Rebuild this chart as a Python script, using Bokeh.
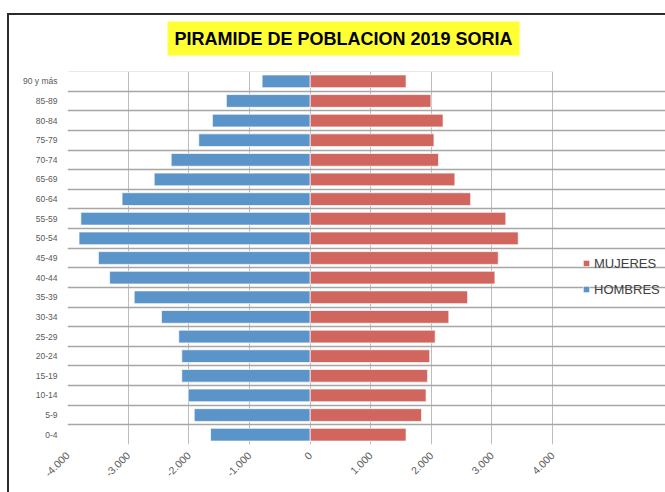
from bokeh.plotting import figure
from bokeh.models import Range1d, FixedTicker, Legend, LegendItem
from bokeh.embed import file_html
from bokeh.resources import INLINE

# ---- data ----
ages = ["0-4", "5-9", "10-14", "15-19", "20-24", "25-29", "30-34", "35-39",
        "40-44", "45-49", "50-54", "55-59", "60-64", "65-69", "70-74",
        "75-79", "80-84", "85-89", "90 y más"]
hombres = [1640, 1910, 2010, 2115, 2115, 2165, 2450, 2900, 3305, 3490,
           3810, 3780, 3100, 2570, 2290, 1835, 1610, 1380, 790]
mujeres = [1585, 1840, 1915, 1940, 1975, 2065, 2290, 2600, 3050, 3105,
           3435, 3230, 2650, 2390, 2120, 2045, 2195, 1995, 1585]
x_ticks = [-4000, -3000, -2000, -1000, 0, 1000, 2000, 3000, 4000]
x_tick_labels = ["-4.000", "-3.000", "-2.000", "-1.000", "0",
                 "1.000", "2.000", "3.000", "4.000"]
title_text = "PIRAMIDE DE POBLACION 2019 SORIA"
series_names = ["MUJERES", "HOMBRES"]

BLUE = "#5b94c9"
RED = "#d1665f"
FONT = "Liberation Sans"
EDGE = "#2b2b2b"

rows = list(range(len(ages)))
men_left = [-v for v in hombres]
zeros = [0] * len(ages)

# layout (pixels)
W, H = 665, 492
ML, MT, MB = 67, 71, 48
PLOT_W = 485            # width of the -4000..4000 plotting area
frame_w = W - ML        # frame extends to the right edge (legend lives there)
x_lo, x_hi = x_ticks[0], x_ticks[-1]
x_end = x_lo + (x_hi - x_lo) * frame_w / PLOT_W

chart_frame_css = (
    f"linear-gradient({EDGE},{EDGE}) 7px 13px / 100% 2px no-repeat, "
    f"linear-gradient({EDGE},{EDGE}) 7px 13px / 2px 100% no-repeat, #ffffff"
)

p = figure(width=W, height=H, output_backend="svg", toolbar_location=None,
           x_range=Range1d(x_lo, x_end),
           y_range=Range1d(-0.5, len(ages) - 0.5),
           min_border_left=ML, min_border_right=0,
           min_border_top=MT, min_border_bottom=MB,
           styles={"background": chart_frame_css})

p.background_fill_color = "white"
p.border_fill_alpha = 0
p.outline_line_color = None

rw = p.hbar(y=rows, left=zeros, right=mujeres, height=0.65,
            fill_color=RED, line_color="white", line_width=1, line_alpha=0.7)
rm = p.hbar(y=rows, left=men_left, right=zeros, height=0.65,
            fill_color=BLUE, line_color="white", line_width=1, line_alpha=0.7)

# x axis
p.xaxis.ticker = FixedTicker(ticks=x_ticks)
p.xaxis.major_label_overrides = {t: l for t, l in zip(x_ticks, x_tick_labels)}
p.xaxis.major_label_orientation = 0.785398
p.xaxis.axis_line_color = None
p.xaxis.major_tick_line_color = None
p.xaxis.minor_tick_line_color = None
p.xaxis.major_tick_out = 0
p.xaxis.major_tick_in = 0
p.xaxis.minor_tick_out = 0
p.xaxis.major_label_text_font = FONT
p.xaxis.major_label_text_font_size = "10.5px"
p.xaxis.major_label_text_color = "#5a5a5a"
p.xaxis.major_label_standoff = 9

# y axis
p.yaxis.ticker = FixedTicker(ticks=rows)
p.yaxis.major_label_overrides = {i: a for i, a in zip(rows, ages)}
p.yaxis.axis_line_color = None
p.yaxis.major_tick_line_color = None
p.yaxis.minor_tick_line_color = None
p.yaxis.major_tick_out = 0
p.yaxis.major_tick_in = 0
p.yaxis.major_label_text_font = FONT
p.yaxis.major_label_text_font_size = "8.5px"
p.yaxis.major_label_text_color = "#5a5a5a"
p.yaxis.major_label_standoff = 10

# grids (limited to the plotting area)
p.xgrid.grid_line_color = "#bdbdbd"
p.xgrid.grid_line_width = 1
p.ygrid.ticker = FixedTicker(ticks=[r + 0.5 for r in rows[:-1]])
p.ygrid.grid_line_color = "#a6a6a6"
p.ygrid.grid_line_width = 1.3
p.ygrid.bounds = (x_lo, x_hi)

# top edge of the plotting area (light)
p.hbar(y=[len(ages) - 0.5], left=[x_lo], right=[x_hi], height=0,
       fill_alpha=0, line_color="#e3e3e3", line_width=1)

# title
p.title.text = title_text
p.title.align = "left"
p.title.offset = 100
p.title.standoff = 32
p.title.text_font = FONT
p.title.text_font_size = "18px"
p.title.text_font_style = "bold"
p.title.text_color = "black"
p.title.background_fill_color = "#ffff33"
if "padding" in p.title.properties():
    p.title.padding = 7

# legend inside the (extended) frame, to the right of the plotting area
legend = Legend(items=[LegendItem(label=series_names[0], renderers=[rw]),
                       LegendItem(label=series_names[1], renderers=[rm])],
                location=(PLOT_W + 30, 145), orientation="vertical",
                glyph_width=8, glyph_height=8, label_height=20,
                label_standoff=4, spacing=6, padding=0, margin=0,
                border_line_color=None, background_fill_alpha=0,
                label_text_font=FONT, label_text_font_size="13px",
                label_text_color="#404040")
p.add_layout(legend)

open("out.html", "w").write(file_html(p, INLINE))
